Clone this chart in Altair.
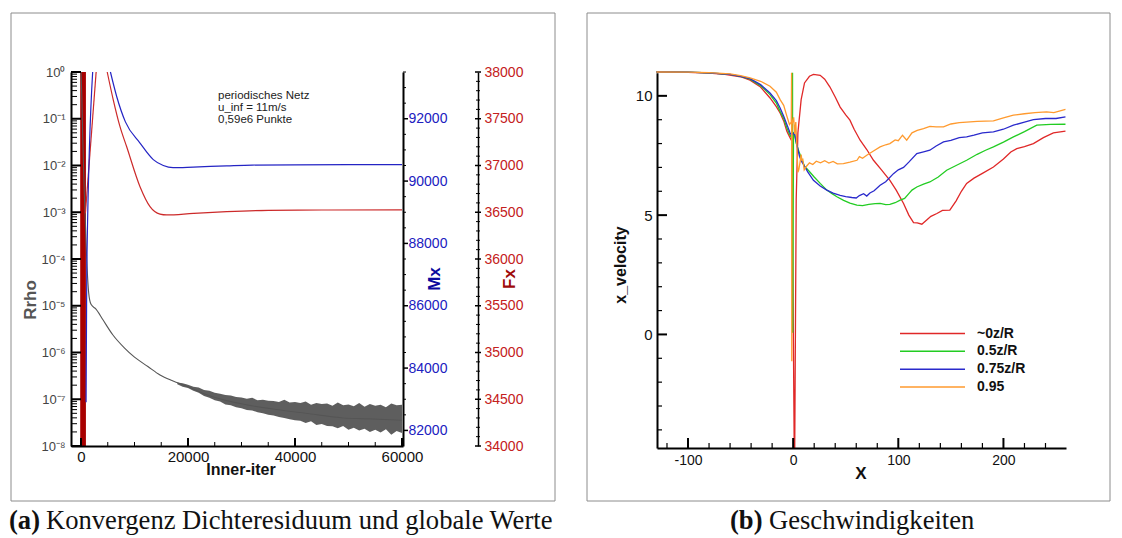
import altair as alt
import numpy as np
import pandas as pd

SANS = "Liberation Sans"
SERIF = "Liberation Serif"

# ---------------- (a) convergence history ----------------
# density residual (log10 of Rrho) along the inner iterations
rrho_iter = [0, 150, 318, 617, 1065, 1440, 1870, 2800, 4100, 5930, 8100, 10000, 12500,
             14770, 17000, 19750, 23000, 27230, 31000, 36580, 42000, 49000, 54000, 60000]
rrho_exp = [0.0, -0.5, -1.38, -2.6, -4.0, -4.73, -4.97, -5.07, -5.3, -5.62, -5.9, -6.1, -6.3,
            -6.48, -6.6, -6.72, -6.88, -7.03, -7.12, -7.22, -7.3, -7.4, -7.42, -7.45]

# spread of the residual once it starts to oscillate (upper / lower envelope, log10)
band_iter = [18000, 19000, 20000, 21000, 22000, 23000, 24000, 25000, 26000, 27000, 28000,
             29000, 30000, 31000, 32000, 33000, 34000, 35000, 36000, 37000, 38000, 39000,
             40000, 41000, 42000, 43000, 44000, 45000, 46000, 47000, 48000, 49000, 50000,
             51000, 52000, 53000, 54000, 55000, 56000, 57000, 58000, 59000, 60000]
band_hi_exp = [-6.64, -6.66, -6.69, -6.73, -6.75, -6.80, -6.82, -6.86, -6.88, -6.91, -6.92,
               -6.95, -6.96, -6.99, -6.97, -7.02, -7.01, -7.03, -7.04, -7.06, -7.01, -7.07,
               -7.06, -7.08, -7.05, -7.12, -7.08, -7.10, -7.09, -7.14, -7.07, -7.13, -7.11,
               -7.15, -7.08, -7.16, -7.10, -7.14, -7.12, -7.17, -7.09, -7.13, -7.12]
band_lo_exp = [-6.68, -6.73, -6.76, -6.82, -6.86, -6.93, -6.97, -7.02, -7.05, -7.11, -7.13,
               -7.17, -7.19, -7.23, -7.24, -7.28, -7.30, -7.33, -7.35, -7.38, -7.40, -7.43,
               -7.45, -7.46, -7.51, -7.47, -7.55, -7.53, -7.57, -7.58, -7.62, -7.57, -7.65,
               -7.61, -7.67, -7.63, -7.70, -7.65, -7.71, -7.64, -7.76, -7.68, -7.72]

# moment Mx (two visible pieces: rise and settling)
mx_iter = [950, 1080, 2180, 5500, 6670, 8300, 11030, 13510, 15380, 17200, 21000, 27230,
           32000, 40000, 50000, 60000]
mx_val = [82900, 87200, 93500, 93500, 92715, 91900, 91220, 90690, 90500, 90430, 90450,
          90490, 90515, 90520, 90525, 90525]
mx_seg = [1, 1, 1, 2, 2, 2, 2, 2, 2, 2, 2, 2, 2, 2, 2, 2]

# force Fx
fx_iter = [820, 2830, 4900, 6040, 7290, 8540, 11030, 12900, 14770, 16000, 21000, 27230,
           35000, 45000, 60000]
fx_val = [36490, 38000, 38000, 37700, 37415, 37200, 36773, 36560, 36480, 36471, 36488,
          36506, 36520, 36524, 36525]
fx_seg = [1, 1, 2, 2, 2, 2, 2, 2, 2, 2, 2, 2, 2, 2, 2]

# start-up oscillation of Fx covering its whole axis range
fx_burst_iter = [-150, 920]
fx_burst_val = [34000, 38000]

# ---------------- (b) velocity profiles ----------------
series_names = ["~0z/R", "0.5z/R", "0.75z/R", "0.95"]
series_colors = ["#e02828", "#22cc22", "#2a2acc", "#ff9a2e"]

red_x = [-130, -100, -80, -65, -50, -41, -31, -22, -16, -12.4, -9, -6, -3, -1.2, 1.0, 1.5,
         2.9, 4.5, 7.6, 10.8, 15.5, 19.3, 25.7, 30, 35, 40, 44.7, 50, 54, 58, 63.7, 70, 76.4,
         84, 92, 98, 105, 110, 114.5, 118, 122.4, 127, 131, 136.7, 142, 149, 155, 160, 165,
         172, 180, 190.5, 200, 207, 212.7, 220, 228.5, 238, 247.5, 259]
red_u = [11.0, 10.98, 10.95, 10.9, 10.8, 10.66, 10.37, 9.91, 9.55, 9.28, 8.95, 8.52, 8.25,
         8.1, -4.76, -4.76, 5.67, 8.45, 9.84, 10.54, 10.82, 10.9, 10.86, 10.7, 10.37, 9.95,
         9.53, 9.2, 8.98, 8.6, 8.14, 7.75, 7.3, 6.9, 6.46, 6.05, 5.49, 5.0, 4.69, 4.68, 4.62,
         4.8, 4.95, 5.07, 5.2, 5.21, 5.6, 6.0, 6.33, 6.55, 6.75, 7.02, 7.35, 7.65, 7.79, 7.87,
         8.0, 8.25, 8.45, 8.52]

green_x = [-130, -100, -80, -60, -50, -41, -31, -22, -16, -12.4, -9, -6, -3, -1.5, -0.6,
           -0.4, 0.3, 1.2, 3, 6, 10.8, 15, 20, 25.7, 32, 37, 41.6, 48, 54, 60.6, 66, 72, 78,
           82.7, 88, 92, 97, 101.8, 106, 110, 113, 117.6, 124, 130, 138, 146, 155, 165, 175,
           183, 190.5, 200, 209.5, 220, 231.7, 245, 259]
green_u = [11.0, 10.99, 10.96, 10.9, 10.82, 10.7, 10.43, 10.05, 9.7, 9.35, 9.05, 8.66, 8.35,
           8.25, 10.97, 0.07, 8.45, 8.4, 8.0, 7.6, 7.05, 6.85, 6.6, 6.33, 6.05, 5.9, 5.77,
           5.62, 5.5, 5.42, 5.4, 5.45, 5.48, 5.49, 5.44, 5.45, 5.52, 5.63, 5.7, 5.9, 6.05,
           6.18, 6.3, 6.39, 6.6, 6.88, 7.08, 7.3, 7.55, 7.72, 7.86, 8.06, 8.28, 8.5, 8.77,
           8.8, 8.81]

blue_x = [-130, -100, -80, -60, -50, -41, -31, -22, -16, -12.4, -9, -6, -3, -1.5, 1.2, 3.5,
          6, 8, 10.8, 14, 19.3, 25.7, 32, 38, 44.7, 50, 55.8, 60, 63, 67, 70, 73, 77, 82.7,
          88, 95.4, 100, 105, 110, 117.6, 124, 130, 136, 143, 150, 158, 165, 172, 180, 190.5,
          200, 209.5, 220, 228.5, 240, 250, 259]
blue_u = [11.0, 10.99, 10.96, 10.9, 10.82, 10.72, 10.47, 10.12, 9.8, 9.49, 9.15, 8.8, 8.45,
          8.35, 8.45, 7.95, 7.47, 7.25, 7.05, 6.8, 6.46, 6.22, 6.05, 5.92, 5.83, 5.78, 5.74,
          5.72, 5.82, 5.9, 5.8, 5.93, 6.02, 6.25, 6.4, 6.74, 6.9, 7.0, 7.22, 7.58, 7.65,
          7.72, 7.9, 8.07, 8.13, 8.25, 8.28, 8.35, 8.45, 8.49, 8.6, 8.77, 8.9, 9.0, 9.05,
          9.05, 9.12]

orange_x = [-130, -100, -80, -60, -50, -41, -31, -22, -16, -12.4, -9, -6, -3.5, -1.8, -1.5,
            -1.3, -1.0, 0.5, 1.5, 2.5, 3.5, 4.5, 5.4, 6.5, 7.6, 8.3, 9.2, 10.5, 12.7, 15.5,
            18.7, 22, 26, 30, 34, 38, 42, 47.8, 54, 60.7, 63, 66, 70, 76, 82.7, 88, 92, 97,
            100, 104, 108, 113, 118, 124, 130, 136, 143, 150, 158, 165, 175, 190.5, 200,
            209.5, 220, 230, 241, 248, 259]
orange_u = [11.0, 10.99, 10.97, 10.92, 10.85, 10.75, 10.61, 10.4, 10.15, 9.84, 9.6, 9.15,
            8.8, 8.9, 10.97, -1.12, 8.8, 9.1, 8.4, 8.9, 7.9, 6.8, 6.91, 7.2, 7.54, 7.3, 7.33,
            6.9, 7.05, 7.19, 7.12, 7.26, 7.19, 7.28, 7.18, 7.25, 7.15, 7.16, 7.22, 7.3, 7.45,
            7.38, 7.51, 7.68, 7.86, 7.95, 8.0, 8.15, 8.12, 8.35, 8.14, 8.45, 8.55, 8.63, 8.72,
            8.7, 8.7, 8.82, 8.88, 8.9, 8.93, 8.95, 9.08, 9.19, 9.25, 9.3, 9.33, 9.3, 9.43]

# ---------------- tables ----------------
rrho_df = pd.DataFrame({"iter": rrho_iter, "rrho": 10.0 ** np.array(rrho_exp)})
band_df = pd.DataFrame({"iter": band_iter,
                        "hi": 10.0 ** np.array(band_hi_exp),
                        "lo": 10.0 ** np.array(band_lo_exp)})
mx_df = pd.DataFrame({"iter": mx_iter, "mx": mx_val, "seg": mx_seg})
fx_df = pd.DataFrame({"iter": fx_iter, "fx": fx_val, "seg": fx_seg})
burst_df = pd.DataFrame({"i0": [fx_burst_iter[0]], "i1": [fx_burst_iter[1]],
                         "f0": [fx_burst_val[0]], "f1": [fx_burst_val[1]]})

parts = []
for name, xs, us in zip(series_names, [red_x, green_x, blue_x, orange_x],
                        [red_u, green_u, blue_u, orange_u]):
    parts.append(pd.DataFrame({"series": name, "X": xs, "u": us, "idx": range(len(xs))}))
vel_df = pd.concat(parts, ignore_index=True)
leg_df = pd.DataFrame({"series": series_names})

# ---------------- page geometry ----------------
PAGE_W, PAGE_H = 1122, 538
LX0, LX1, LY0, LY1 = 71, 403, 72, 446          # plot area of (a)
FX_AXIS_X = 478                                # extra Fx axis of (a)
RX0, RX1, RY0, RY1 = 657, 1066, 72.7, 448      # plot area of (b)

iter_sc = alt.Scale(domain=[-1870, 60190], range=[LX0, LX1], nice=False, zero=False)
rrho_sc = alt.Scale(type="log", domain=[1e-8, 1], range=[LY1, LY0], nice=False)
mx_sc = alt.Scale(domain=[81500, 93500], range=[LY1, LY0], nice=False, zero=False)
fx_sc = alt.Scale(domain=[34000, 38000], range=[LY1, LY0], nice=False, zero=False)
xpos_sc = alt.Scale(domain=[-129.5, 259.5], range=[RX0, RX1], nice=False, zero=False)
u_sc = alt.Scale(domain=[-4.76, 10.97], range=[RY1, RY0], nice=False, zero=False)
color_sc = alt.Scale(domain=series_names, range=series_colors)

# tick positions (major ones get labels / longer ticks)
iter_major = [0, 20000, 40000, 60000]
iter_minor = [v for v in range(0, 60001, 5000) if v % 20000]
decades = [10.0 ** k for k in range(-8, 1)]
rrho_minor = [m * 10.0 ** k for k in range(-8, 0) for m in range(2, 10)]
mx_major = list(range(82000, 93501, 2000))
mx_minor = [v for v in range(82000, 93501, 500) if v % 2000]
fx_major = list(range(34000, 38001, 500))
fx_minor = [v for v in range(34000, 38001, 100) if v % 500]
x_major = [-100, 0, 100, 200]
x_minor = [v for v in range(-120, 241, 20) if v % 100]
u_major = [0, 5, 10]
u_minor = [v for v in range(-4, 11) if v % 5]

SUP_LABELS = ("['10\u207b\u2078','10\u207b\u2077','10\u207b\u2076','10\u207b\u2075',"
              "'10\u207b\u2074','10\u207b\u00b3','10\u207b\u00b2','10\u207b\u00b9','10\u2070']"
              "[round(log(datum.value)/LN10)+8]")


def label_axis(orient, offset, values, size, color="#111111", expr=None, pad=5,
               fmt="d", domain_width=2):
    kw = dict(orient=orient, offset=offset, values=values, grid=False, title=None,
              domain=True, domainColor="black", domainWidth=domain_width,
              ticks=False, tickSize=0,
              labelFont=SANS, labelFontSize=size, labelColor=color, labelPadding=pad,
              labelFlush=False, labelOverlap=False, labelBound=False, zindex=1)
    if fmt:
        kw["format"] = fmt
    if expr:
        kw["labelExpr"] = expr
    return alt.Axis(**kw)


def x_ticks(values, scale, y_from, y_to, width=1.0):
    """Vertical tick strokes at data positions along an x scale."""
    return alt.Chart(pd.DataFrame({"v": values})).mark_rule(color="black", strokeWidth=width).encode(
        x=alt.X("v:Q", scale=scale, axis=None), y=alt.value(y_from), y2=alt.value(y_to))


def y_ticks(values, scale, x_from, x_to, width=1.0):
    """Horizontal tick strokes at data positions along a y scale."""
    return alt.Chart(pd.DataFrame({"v": values})).mark_rule(color="black", strokeWidth=width).encode(
        y=alt.Y("v:Q", scale=scale, axis=None), x=alt.value(x_from), x2=alt.value(x_to))


def text(t, x, y, size, color="#111111", weight="normal", angle=0, font=SANS,
         align="center", baseline="middle", **kw):
    return alt.Chart(pd.DataFrame({"t": [t]})).mark_text(
        font=font, fontSize=size, fontWeight=weight, color=color, angle=angle,
        align=align, baseline=baseline, **kw
    ).encode(text="t:N", x=alt.value(x), y=alt.value(y))


def frame(x0, y0, x1, y1):
    return alt.Chart(pd.DataFrame({"f": [0]})).mark_rect(
        fillOpacity=0, stroke="#8c8c8c", strokeWidth=1
    ).encode(x=alt.value(x0), x2=alt.value(x1), y=alt.value(y0), y2=alt.value(y1))


layers = [frame(11, 13, 555, 501), frame(587, 13, 1110, 501)]

# ---- panel (a) ----
burst = alt.Chart(burst_df).mark_rect(color="#a80000").encode(
    x=alt.X("i0:Q", scale=iter_sc, axis=None), x2="i1:Q",
    y=alt.Y("f0:Q", scale=fx_sc, axis=None), y2="f1:Q")

rrho_line = alt.Chart(rrho_df).mark_line(color="#555555", strokeWidth=1.1,
                                         interpolate="monotone").encode(
    x=alt.X("iter:Q", scale=iter_sc,
            axis=label_axis("bottom", LY1 - PAGE_H, iter_major, 15, pad=3)),
    y=alt.Y("rrho:Q", scale=rrho_sc,
            axis=label_axis("left", -LX0, decades, 13, "#444444", expr=SUP_LABELS, pad=6, fmt=None)))

band = alt.Chart(band_df).mark_area(color="#555555", opacity=0.95).encode(
    x=alt.X("iter:Q", scale=iter_sc, axis=None),
    y=alt.Y("lo:Q", scale=rrho_sc, axis=None), y2="hi:Q")

fx_line = alt.Chart(fx_df).mark_line(color="#cc2a2a", strokeWidth=1.2,
                                     interpolate="monotone").encode(
    x=alt.X("iter:Q", scale=iter_sc, axis=None),
    y=alt.Y("fx:Q", scale=fx_sc,
            axis=label_axis("right", FX_AXIS_X - PAGE_W, fx_major, 14, "#c42020",
                            pad=6, domain_width=1.5)),
    detail="seg:N")

mx_line = alt.Chart(mx_df).mark_line(color="#2424c4", strokeWidth=1.2,
                                     interpolate="monotone").encode(
    x=alt.X("iter:Q", scale=iter_sc, axis=None),
    y=alt.Y("mx:Q", scale=mx_sc,
            axis=label_axis("right", LX1 - PAGE_W, mx_major, 14, "#2020c0", pad=5)),
    detail="seg:N")

layers += [burst, rrho_line, band, fx_line, mx_line]

# tick strokes of panel (a): inward on the Rrho / iteration axes, outward on Mx, crossing on Fx
layers += [
    x_ticks(iter_major, iter_sc, LY1, LY1 - 8, 2),
    x_ticks(iter_minor, iter_sc, LY1, LY1 - 4),
    y_ticks(decades, rrho_sc, LX0, LX0 + 10, 2),
    y_ticks(rrho_minor, rrho_sc, LX0, LX0 + 6),
    y_ticks(mx_major, mx_sc, LX1, LX1 + 5, 1.5),
    y_ticks(mx_minor, mx_sc, LX1, LX1 + 3),
    y_ticks(fx_major, fx_sc, FX_AXIS_X - 3, FX_AXIS_X + 3, 1.5),
    y_ticks(fx_minor, fx_sc, FX_AXIS_X - 2, FX_AXIS_X + 2),
]

layers += [
    text("Rrho", 31, 300, 17, "#555555", "bold", angle=270),
    text("Inner-iter", 241, 470, 16, "#111111", "bold"),
    text("Mx", 435, 279, 17, "#0a0a9e", "bold", angle=270),
    text("Fx", 510, 279, 17, "#9e0a0a", "bold", angle=270),
    text("periodisches Netz\nu_inf = 11m/s\n0,59e6 Punkte", 218, 90, 11.5, "#222222",
         align="left", baseline="top", lineBreak="\n", lineHeight=12),
]

# ---- panel (b) ----
curves = alt.Chart(vel_df).mark_line(strokeWidth=1.3).encode(
    x=alt.X("X:Q", scale=xpos_sc,
            axis=label_axis("bottom", RY1 - PAGE_H, x_major, 14,
                            expr="'' + datum.value", pad=5)),
    y=alt.Y("u:Q", scale=u_sc, axis=label_axis("left", -RX0, u_major, 15, pad=5)),
    color=alt.Color("series:N", scale=color_sc, legend=None),
    order="idx:Q")

leg_y = alt.Y("series:N", axis=None,
              scale=alt.Scale(type="point", domain=series_names, range=[333.5, 387], padding=0))
leg_rule = alt.Chart(leg_df).mark_rule(strokeWidth=1.5).encode(
    x=alt.value(900), x2=alt.value(965), y=leg_y,
    color=alt.Color("series:N", scale=color_sc, legend=None))
leg_text = alt.Chart(leg_df).mark_text(
    align="left", baseline="middle", font=SANS, fontSize=14, fontWeight="bold", color="#111111"
).encode(x=alt.value(977), y=leg_y, text="series:N")

layers += [
    curves,
    x_ticks(x_major, xpos_sc, RY1, RY1 - 10, 2),
    x_ticks(x_minor, xpos_sc, RY1, RY1 - 5, 1.2),
    y_ticks(u_major, u_sc, RX0, RX0 + 10, 2),
    y_ticks(u_minor, u_sc, RX0, RX0 + 5, 1.2),
    leg_rule, leg_text,
    text("x_velocity", 621, 265, 16, "#111111", "bold", angle=270),
    text("X", 861, 474, 17, "#111111", "bold"),
]

# ---- captions ----
CAP = 26.6
layers += [
    text("(a)", 9, 529, CAP, "#111111", "bold", font=SERIF, align="left", baseline="alphabetic"),
    text("Konvergenz Dichteresiduum und globale Werte", 46, 529, CAP, "#111111",
         font=SERIF, align="left", baseline="alphabetic"),
    text("(b)", 730, 529, CAP, "#111111", "bold", font=SERIF, align="left", baseline="alphabetic"),
    text("Geschwindigkeiten", 769, 529, CAP, "#111111",
         font=SERIF, align="left", baseline="alphabetic"),
]

chart = (
    alt.layer(*layers)
    .resolve_scale(x="independent", y="independent")
    .resolve_axis(x="independent", y="independent")
    .properties(width=PAGE_W, height=PAGE_H, padding=0,
                autosize=alt.AutoSizeParams(type="none"), background="white")
    .configure_view(stroke=None)
)

chart.save("out.html", embed_options={"renderer": "svg", "actions": False})
